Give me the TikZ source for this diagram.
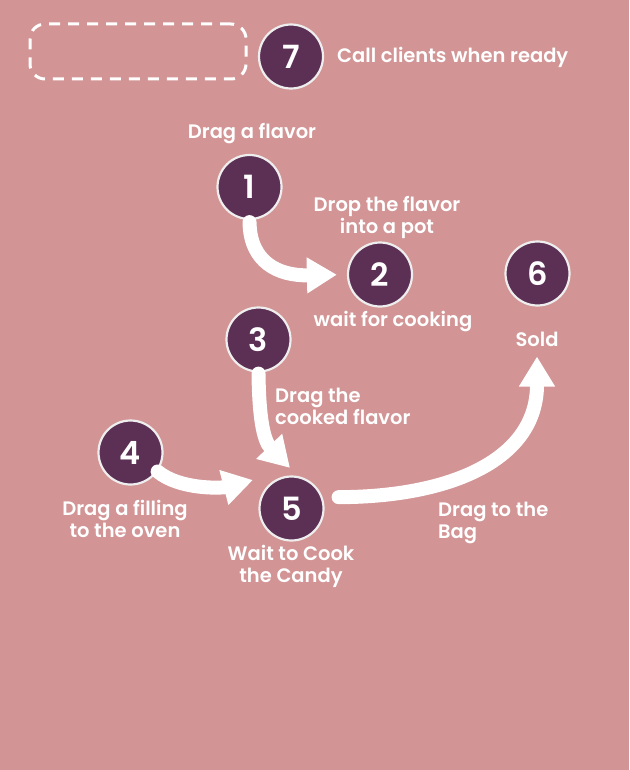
\documentclass[tikz,border=0pt]{standalone}
\usepackage{fontspec}
\setmainfont{Poppins}[BoldFont={Poppins SemiBold}]
\usetikzlibrary{arrows.meta,calc}
\definecolor{bgpink}{HTML}{D29494}
\definecolor{plum}{HTML}{5C3055}
\definecolor{ringgray}{HTML}{EEEEEE}
\tikzset{
  stepcircle/.style={circle, fill=plum, draw=ringgray, line width=2.2pt, minimum size=64pt, inner sep=0pt, text=white, font=\bfseries\fontsize{32}{32}\selectfont},
  lbl/.style={text=white, font=\bfseries\fontsize{19.5}{22}\selectfont, inner sep=0pt},
  bigarrow/.style={draw=white, line width=14pt, line cap=round, -{Triangle[length=30pt,width=34pt]}},
}
\begin{document}
\begin{tikzpicture}[x=1pt,y=-1pt]
  \fill[bgpink] (0,0) rectangle (629,770);
  \useasboundingbox (0,0) rectangle (629,770);
  % dashed placeholder
  \node[draw=white, line width=3pt, dash pattern=on 11pt off 8pt, rounded corners=15pt, minimum width=216pt, minimum height=55pt, inner sep=0pt] (slot) at (138,51.5) {};
  % step circles
  \node[stepcircle] (n7) at (291,56.5) {7};
  \node[stepcircle] (n1) at (249.5,187) {1};
  \node[stepcircle] (n2) at (380,274.5) {2};
  \node[stepcircle] (n3) at (258.5,339.5) {3};
  \node[stepcircle] (n4) at (130.5,452.5) {4};
  \node[stepcircle] (n5) at (291.5,508.5) {5};
  \node[stepcircle] (n6) at (537.5,273.5) {6};
  % labels
  \node[lbl, anchor=west] (t7) at (337,57) {Call clients when ready};
  \node[lbl] (t1) at (252,134) {Drag a flavor};
  \node[lbl, align=center] (t2a) at (387,217) {Drop the flavor\\into a pot};
  \node[lbl] (t2b) at (393,322) {wait for cooking};
  \node[lbl, align=left, anchor=west] (t3) at (275,406) {Drag the\\cooked flavor};
  \node[lbl, align=center] (t4) at (125,519) {Drag a filling\\to the oven};
  \node[lbl, align=center] (t5) at (291,566) {Wait to Cook\\the Candy};
  \node[lbl] (t6) at (537,339) {Sold};
  \node[lbl, align=left, anchor=west] (t56) at (438,523) {Drag to the\\Bag};
  % arrows
  \draw[bigarrow, shorten <=2pt, shorten >=10pt] (n1.south) .. controls (250,262) and (278,276) .. (n2.west);
  \draw[bigarrow, shorten <=1pt] (n3.south) .. controls (259,415) and (263,440) .. ($(n5.north)+(-1.5,-7.5)$);
  \draw[bigarrow] (n4.-35) .. controls (180,490) and (222,488) .. ($(n5.west)+(-5.5,-28.5)$);
  \draw[bigarrow, shorten <=16pt, shorten >=10pt] (n5.20) .. controls (450,497) and (537,460) .. (t6.south);
\end{tikzpicture}
\end{document}
